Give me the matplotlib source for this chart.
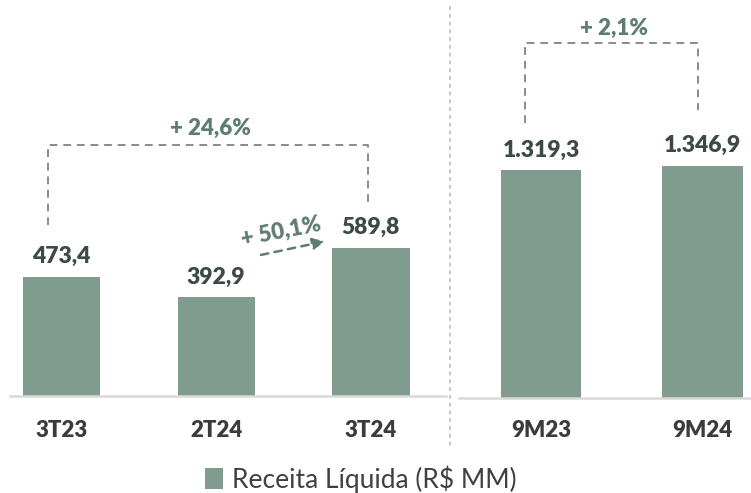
import matplotlib
matplotlib.use("Agg")
import matplotlib.pyplot as plt
from matplotlib.lines import Line2D

plt.rcParams['font.family'] = ['Lato', 'DejaVu Sans']

# ---- data ----
q_labels = ["3T23", "2T24", "3T24"]
q_values = [473.4, 392.9, 589.8]
ytd_labels = ["9M23", "9M24"]
ytd_values = [1319.3, 1346.9]
growth_q_yoy = "+ 24,6%"
growth_q_qoq = "+ 50,1%"
growth_ytd = "+ 2,1%"
legend_label = "Receita Líquida (R$ MM)"

BAR = "#7F9C8F"
VAL = "#3C4A44"
CAT = "#3B3B3B"
PCT = "#5E7D6F"
DASH = "#8A8A8A"
AXL = "#D9D9D9"
WEIGHT = "heavy"

def fmt(v):
    s = f"{v:,.1f}"
    return s.replace(",", "X").replace(".", ",").replace("X", ".")

W, H = 751, 493
fig = plt.figure(figsize=(W / 100, H / 100), dpi=100)

axL = fig.add_axes([10 / W, (H - 396) / H, 436 / W, 396 / H])
axR = fig.add_axes([459 / W, (H - 398) / H, 292 / W, 398 / H])

def style(ax, pad):
    for s in ["top", "right", "left"]:
        ax.spines[s].set_visible(False)
    ax.spines["bottom"].set_color(AXL)
    ax.spines["bottom"].set_linewidth(1.8)
    ax.set_yticks([])
    ax.tick_params(axis="x", length=0, pad=pad, labelsize=16, labelcolor=CAT)
    for t in ax.get_xticklabels():
        t.set_fontweight(WEIGHT)
    ax.patch.set_alpha(0)

barsL = axL.bar(range(len(q_values)), q_values, width=0.5, color=BAR)
axL.set_xlim(-0.333, 2.485)
axL.set_ylim(0, 1575)
axL.set_xticks(range(len(q_labels)))
axL.set_xticklabels(q_labels)
style(axL, 17.5)

barsR = axR.bar(range(len(ytd_values)), ytd_values, width=0.5, color=BAR)
axR.set_xlim(-0.508, 1.30)
axR.set_ylim(0, 2307)
axR.set_xticks(range(len(ytd_labels)))
axR.set_xticklabels(ytd_labels)
style(axR, 16)

for ax, vals in ((axL, q_values), (axR, ytd_values)):
    for i, v in enumerate(vals):
        ax.annotate(fmt(v), (i, v), xytext=(0, 14.5), textcoords="offset points",
                    ha="center", va="center", fontsize=16.5, fontweight=WEIGHT,
                    color=VAL, annotation_clip=False)

# brackets
dash_kw = dict(color=DASH, lw=1.4, linestyle=(0, (4, 3)), clip_on=False)
axL.plot([-0.09, -0.09, 1.98, 1.98], [680, 998, 998, 752], **dash_kw)
axL.text(0.96, 1066, growth_q_yoy, ha="center", va="center", fontsize=16,
         fontweight=WEIGHT, color=PCT)
axR.plot([-0.10, -0.10, 0.97, 0.97], [1594, 2058, 2058, 1670], **dash_kw)
axR.text(0.45, 2145, growth_ytd, ha="center", va="center", fontsize=16,
         fontweight=WEIGHT, color=PCT)

# arrow 2T24 -> 3T24
axL.annotate("", xy=(1.70, 615), xytext=(1.289, 561),
             arrowprops=dict(arrowstyle="-|>,head_length=0.7,head_width=0.35",
                             color=PCT, lw=1.8, linestyle=(0, (3, 2.5)),
                             shrinkA=0, shrinkB=0))
axL.text(1.42, 652, growth_q_qoq, ha="center", va="center", fontsize=16,
         fontweight=WEIGHT, color=PCT, rotation=11, rotation_mode="anchor")

# separator
fig.add_artist(Line2D([450 / W, 450 / W], [(H - 6) / H, (H - 446) / H],
                      color="#C9C3D3", lw=1.4, linestyle=(0, (2, 2))))

# legend
fig.legend(handles=[barsL], labels=[legend_label], loc="center",
           bbox_to_anchor=(361 / W, (H - 479) / H), frameon=False,
           fontsize=19, handlelength=0.65, handleheight=0.8,
           handletextpad=0.35, labelcolor="#404040")

fig.savefig("out.png", dpi=100)
